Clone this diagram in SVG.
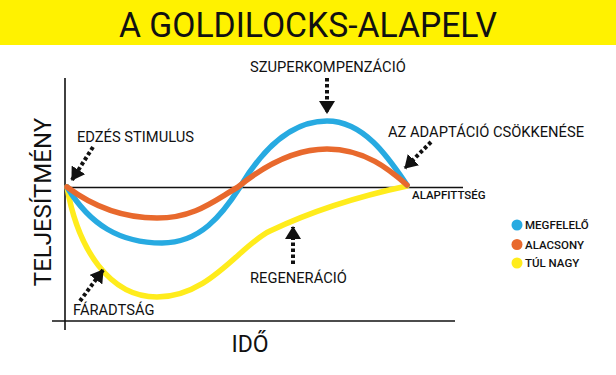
<svg xmlns="http://www.w3.org/2000/svg" width="616" height="375" viewBox="0 0 616 375">
<style>
.lbl{font-family:Roboto,"Liberation Sans",sans-serif;font-size:14.7px;fill:#111}
.sm{font-family:Roboto,"Liberation Sans",sans-serif;font-size:11.5px;font-weight:500;fill:#111}
.ax{stroke:#111;stroke-width:1.6;fill:none}
.crv{fill:none;stroke-width:5.5;stroke-linecap:round}
.arr{stroke:#111;stroke-width:4;stroke-dasharray:3.5 2.5;fill:none;marker-end:url(#ah)}
</style>
<defs>
<marker id="ah" markerUnits="userSpaceOnUse" markerWidth="13" markerHeight="16" refX="12" refY="8" orient="auto">
<path d="M0,0 L13,8 L0,16 z" fill="#111"/>
</marker>
</defs>
<rect width="616" height="375" fill="#fff"/>
<g id="title">
<rect x="0" y="0" width="616" height="45" fill="#FFF200"/>
<text x="308" y="37" text-anchor="middle" font-family="Roboto,'Liberation Sans',sans-serif" font-size="35" font-weight="400" fill="#111" textLength="378" lengthAdjust="spacingAndGlyphs">A GOLDILOCKS-ALAPELV</text>
</g>
<g id="axes">
<line class="ax" x1="65" y1="78" x2="65" y2="330"/>
<line class="ax" x1="52" y1="321" x2="455" y2="321"/>
<line class="ax" x1="65" y1="187.5" x2="463" y2="187.5"/>
<text x="250" y="352" text-anchor="middle" font-family="Roboto,'Liberation Sans',sans-serif" font-size="23" fill="#111">IDŐ</text>
<text transform="translate(51,202) rotate(-90)" text-anchor="middle" font-family="Roboto,'Liberation Sans',sans-serif" font-size="24" fill="#111">TELJESÍTMÉNY</text>
<text class="sm" x="412" y="199" font-size="10">ALAPFITTSÉG</text>
</g>
<g id="curves">
<path id="yellow" class="crv" stroke="#FFEC1C" d="M67,187 C78,250 110,297 157,297 C210,297 240,245 270,231 C310,212 360,196 407,186"/>
<path id="blue" class="crv" stroke="#27AAE1" d="M67,187 C90,225 120,243 162,243 C200,243 222,215 240,187 C262,150 290,121 327,121 C365,121 390,160 407,185"/>
<path id="orange" class="crv" stroke="#E8692D" d="M67,187 C95,208 125,218 157,218 C195,218 215,200 238,187 C265,165 295,149 327,149 C365,149 390,170 407,185"/>
</g>
<g id="connectors">
<line class="arr" x1="93" y1="147" x2="72" y2="180"/>
<line class="arr" x1="80" y1="301" x2="103" y2="270"/>
<line class="arr" x1="327" y1="78" x2="327" y2="113"/>
<line class="arr" x1="431" y1="142" x2="405" y2="168"/>
<line class="arr" x1="293" y1="264" x2="293" y2="227"/>
</g>
<g id="labels">
<text class="lbl" x="77" y="142">EDZÉS STIMULUS</text>
<text class="lbl" x="73" y="315">FÁRADTSÁG</text>
<text class="lbl" x="250" y="72">SZUPERKOMPENZÁCIÓ</text>
<text class="lbl" x="388" y="137">AZ ADAPTÁCIÓ CSÖKKENÉSE</text>
<text class="lbl" x="250" y="283">REGENERÁCIÓ</text>
</g>
<g id="legend">
<circle cx="517" cy="225" r="5.5" fill="#27AAE1"/>
<text class="sm" x="525" y="229">MEGFELELŐ</text>
<circle cx="517" cy="244.5" r="5.5" fill="#E8692D"/>
<text class="sm" x="525" y="248.5">ALACSONY</text>
<circle cx="517" cy="263" r="5.5" fill="#FFEC1C"/>
<text class="sm" x="525" y="267">TÚL NAGY</text>
</g>
</svg>
